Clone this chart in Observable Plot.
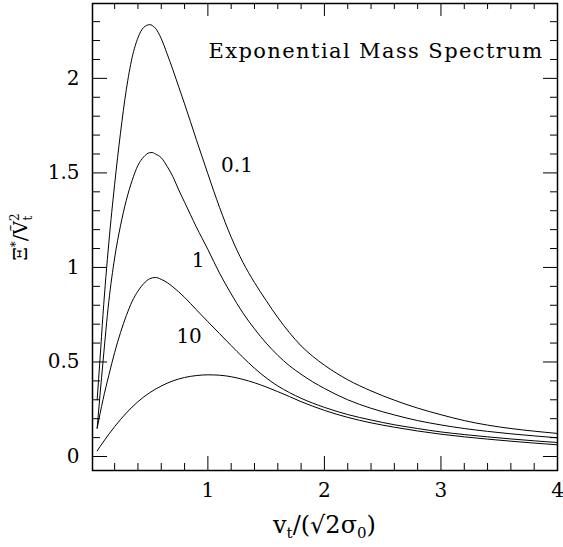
<!DOCTYPE html>
<html>
<head>
<meta charset="utf-8">
<script src="https://cdn.jsdelivr.net/npm/d3@7"></script>
<script src="https://cdn.jsdelivr.net/npm/@observablehq/plot@0.6"></script>
<style>
  html, body { margin: 0; padding: 0; background: #fff; }
  #chart svg { display: block; }
</style>
</head>
<body>
<div id="chart"></div>
<script>
// ---- data ----
const seriesNames = ["0.1", "1", "10", "100"];

const x_01 = [0.05, 0.075, 0.1, 0.15, 0.2, 0.25, 0.3, 0.35, 0.4, 0.45, 0.5, 0.55, 0.6, 0.65, 0.7, 0.75, 0.8, 0.85, 0.9, 0.95, 1.0, 1.1, 1.2, 1.3, 1.4, 1.5, 1.6, 1.7, 1.8, 1.9, 2.0, 2.1, 2.2, 2.4, 2.6, 2.8, 3.0, 3.2, 3.4, 3.6, 3.8, 4.0];
const y_01 = [0.30, 0.52, 0.75, 1.13, 1.44, 1.71, 1.94, 2.11, 2.215, 2.27, 2.284, 2.265, 2.21, 2.13, 2.045, 1.955, 1.865, 1.772, 1.678, 1.586, 1.495, 1.318, 1.16, 1.028, 0.92, 0.825, 0.735, 0.655, 0.585, 0.53, 0.483, 0.442, 0.406, 0.347, 0.298, 0.256, 0.221, 0.19, 0.166, 0.148, 0.134, 0.122];

const x_1 = [0.05, 0.075, 0.1, 0.15, 0.2, 0.25, 0.3, 0.35, 0.4, 0.45, 0.5, 0.52, 0.55, 0.6, 0.65, 0.7, 0.75, 0.8, 0.85, 0.9, 0.95, 1.0, 1.1, 1.2, 1.3, 1.4, 1.5, 1.6, 1.7, 1.8, 1.9, 2.0, 2.2, 2.4, 2.6, 2.8, 3.0, 3.2, 3.4, 3.6, 3.8, 4.0];
const y_1 = [0.15, 0.33, 0.50, 0.82, 1.05, 1.22, 1.355, 1.46, 1.54, 1.585, 1.607, 1.608, 1.60, 1.58, 1.535, 1.48, 1.41, 1.345, 1.28, 1.215, 1.155, 1.095, 0.97, 0.86, 0.76, 0.675, 0.60, 0.535, 0.48, 0.435, 0.395, 0.36, 0.30, 0.255, 0.22, 0.19, 0.167, 0.148, 0.133, 0.12, 0.109, 0.099];

const x_10 = [0.05, 0.1, 0.15, 0.2, 0.25, 0.3, 0.35, 0.4, 0.45, 0.5, 0.55, 0.6, 0.65, 0.7, 0.8, 0.9, 1.0, 1.1, 1.2, 1.3, 1.4, 1.5, 1.6, 1.7, 1.8, 2.0, 2.2, 2.4, 2.6, 2.8, 3.0, 3.2, 3.4, 3.6, 3.8, 4.0];
const y_10 = [0.15, 0.30, 0.43, 0.55, 0.655, 0.745, 0.82, 0.875, 0.915, 0.94, 0.947, 0.937, 0.92, 0.897, 0.842, 0.777, 0.713, 0.65, 0.587, 0.525, 0.467, 0.416, 0.373, 0.338, 0.308, 0.26, 0.222, 0.193, 0.168, 0.148, 0.13, 0.116, 0.104, 0.093, 0.083, 0.074];

const x_100 = [0.05, 0.1, 0.15, 0.2, 0.3, 0.4, 0.5, 0.6, 0.7, 0.8, 0.9, 1.0, 1.1, 1.2, 1.3, 1.4, 1.5, 1.6, 1.7, 1.8, 1.9, 2.0, 2.2, 2.4, 2.6, 2.8, 3.0, 3.2, 3.4, 3.6, 3.8, 4.0];
const y_100 = [0.03, 0.075, 0.118, 0.158, 0.23, 0.29, 0.337, 0.373, 0.40, 0.418, 0.428, 0.432, 0.43, 0.422, 0.408, 0.39, 0.368, 0.343, 0.317, 0.29, 0.266, 0.244, 0.207, 0.178, 0.155, 0.135, 0.118, 0.104, 0.092, 0.081, 0.071, 0.062];

const curveLabels = ["0.1", "1", "10"];
const curveLabelX = [1.25, 0.916, 0.839];
const curveLabelY = [1.538, 1.035, 0.633];

const xMajor = [1, 2, 3, 4];
const xMajorLabels = ["1", "2", "3", "4"];
const xMinor = [0.2, 0.4, 0.6, 0.8, 1.2, 1.4, 1.6, 1.8, 2.2, 2.4, 2.6, 2.8, 3.2, 3.4, 3.6, 3.8];
const yMajor = [0, 0.5, 1, 1.5, 2];
const yMajorLabels = ["0", "0.5", "1", "1.5", "2"];
const yMinor = [0.1, 0.2, 0.3, 0.4, 0.6, 0.7, 0.8, 0.9, 1.1, 1.2, 1.3, 1.4, 1.6, 1.7, 1.8, 1.9, 2.1, 2.2, 2.3];

const title = "Exponential Mass Spectrum";

// ---- build table ----
const xsAll = [x_01, x_1, x_10, x_100];
const ysAll = [y_01, y_1, y_10, y_100];
const rows = [];
seriesNames.forEach((s, i) => xsAll[i].forEach((x, j) => rows.push({series: s, x, y: ysAll[i][j]})));
const labelRows = curveLabels.map((t, i) => ({text: t, x: curveLabelX[i], y: curveLabelY[i]}));

const W = 563, H = 547;
const mL = 92, mR = 6, mT = 3, mB = 77;
const FW = W - mL - mR, FH = H - mT - mB;
const FONT = "DejaVu Serif";

const plot = Plot.plot({
  width: W, height: H,
  marginLeft: mL, marginRight: mR, marginTop: mT, marginBottom: mB,
  x: {domain: [0.01, 4]},
  y: {domain: [-0.074, 2.396]},
  style: {fontFamily: FONT, background: "white", color: "black"},
  marks: [
    // inward ticks
    Plot.tickX(xMajor, {x: d => d, insetTop: FH - 14, stroke: "black"}),
    Plot.tickX(xMajor, {x: d => d, insetBottom: FH - 13, stroke: "black"}),
    Plot.tickX(xMinor, {x: d => d, insetTop: FH - 7, stroke: "black"}),
    Plot.tickX(xMinor, {x: d => d, insetBottom: FH - 6, stroke: "black"}),
    Plot.tickY(yMajor, {y: d => d, insetRight: FW - 15, stroke: "black"}),
    Plot.tickY(yMajor, {y: d => d, insetLeft: FW - 14, stroke: "black"}),
    Plot.tickY(yMinor, {y: d => d, insetRight: FW - 8, stroke: "black"}),
    Plot.tickY(yMinor, {y: d => d, insetLeft: FW - 7, stroke: "black"}),
    Plot.axisX({ticks: xMajor, tickSize: 0, tickPadding: 12, fontSize: 20,
      tickFormat: d => xMajorLabels[xMajor.indexOf(d)], label: null}),
    Plot.axisY({ticks: yMajor, tickSize: 0, tickPadding: 13, fontSize: 20,
      tickFormat: d => yMajorLabels[yMajor.indexOf(d)], label: null}),
    Plot.line(rows, {x: "x", y: "y", z: "series", curve: "monotone-x", stroke: "black", strokeWidth: 1}),
    Plot.text(labelRows, {x: "x", y: "y", text: "text", fontSize: 20}),
    Plot.text([title], {frameAnchor: "top-right", dx: -14, dy: 40, textAnchor: "end", fontSize: 21}),
    Plot.frame({stroke: "black", strokeWidth: 1.5})
  ]
});

document.getElementById("chart").appendChild(plot);

const svg = d3.select(plot);
// widen the title like the reference lettering
svg.selectAll("text").filter(function () { return this.textContent === title; })
  .style("letter-spacing", "1.4px");

// axis titles with sub/superscripts
const xl = svg.append("text")
  .attr("x", mL + FW / 2).attr("y", 533)
  .attr("text-anchor", "middle").attr("font-size", 24).attr("font-family", FONT).attr("fill", "black");
xl.append("tspan").text("v");
xl.append("tspan").attr("dy", 5).attr("font-size", 15).text("t");
xl.append("tspan").attr("dy", -5).text("/(√2σ");
xl.append("tspan").attr("dy", 5).attr("font-size", 15).text("0");
xl.append("tspan").attr("dy", -5).text(")");

const yl = svg.append("text")
  .attr("transform", `translate(27, ${237}) rotate(-90)`)
  .attr("text-anchor", "middle").attr("font-size", 19).attr("font-family", FONT).attr("fill", "black");
yl.append("tspan").text("Ξ");
yl.append("tspan").attr("dy", -7).attr("font-size", 12).text("*");
yl.append("tspan").attr("dy", 7).text("/Ṽ");
yl.append("tspan").attr("dy", -8).attr("font-size", 12).text("2");
yl.append("tspan").attr("dx", -7).attr("dy", 13).attr("font-size", 12).text("t");
</script>
</body>
</html>
